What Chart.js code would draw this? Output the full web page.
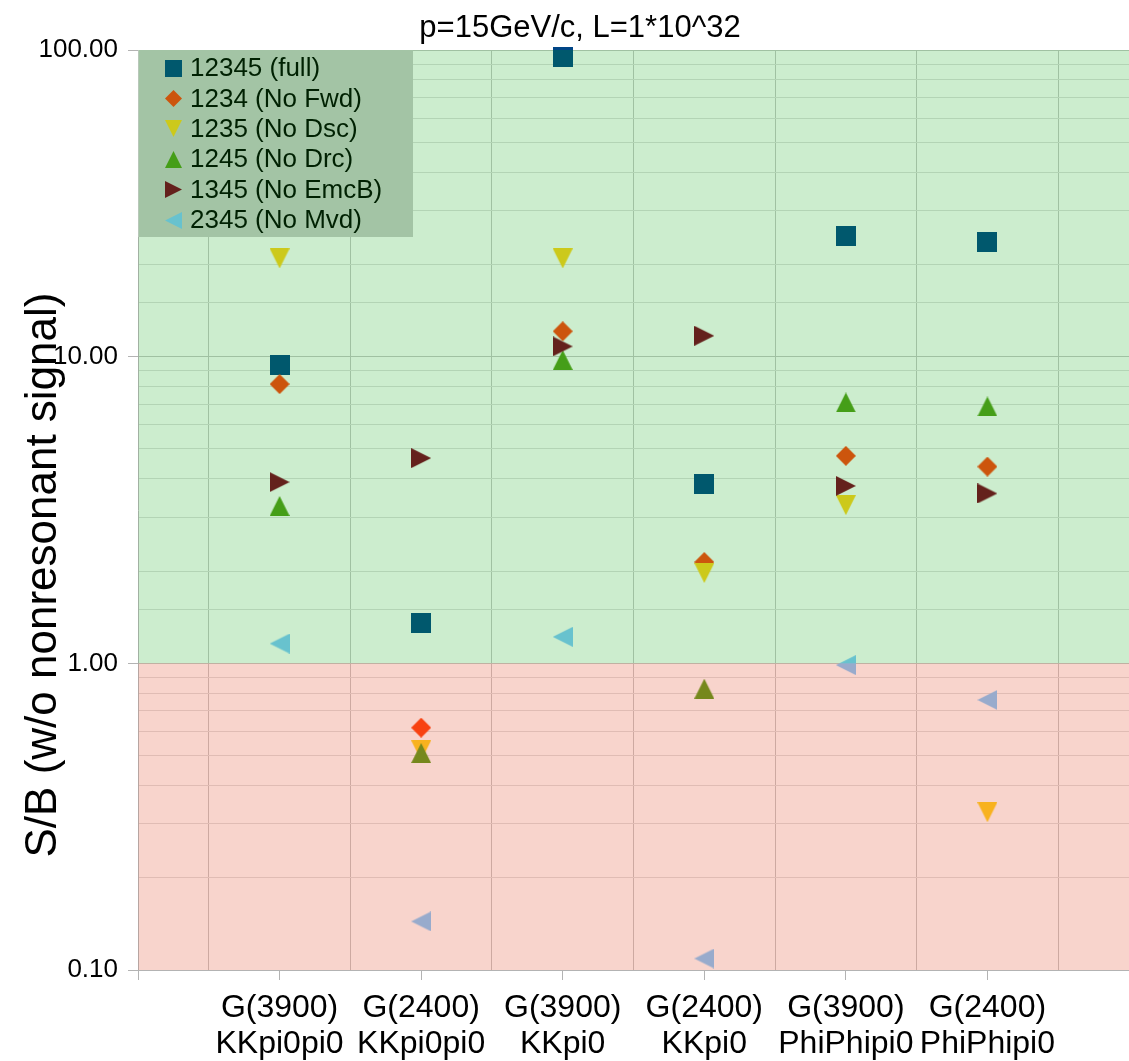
<!DOCTYPE html>
<html>
<head>
<meta charset="utf-8">
<title>S/B per channel</title>
<script src="https://cdn.jsdelivr.net/npm/chart.js@4/dist/chart.umd.min.js"></script>
<style>
  html, body { margin: 0; padding: 0; background: #fff; overflow: hidden; }
  #wrap { width: 1140px; height: 1061px; }
</style>
</head>
<body>
<div id="wrap"><canvas id="sbChart" width="1140" height="1061"></canvas></div>
<script>
// Channels on the x axis (positions 1..6)
const channels = [
    ['G(3900)', 'KKpi0pi0'],
    ['G(2400)', 'KKpi0pi0'],
    ['G(3900)', 'KKpi0'],
    ['G(2400)', 'KKpi0'],
    ['G(3900)', 'PhiPhipi0'],
    ['G(2400)', 'PhiPhipi0']
];

// Detector configurations
const seriesNames = ['12345 (full)', '1234 (No Fwd)', '1235 (No Dsc)', '1245 (No Drc)', '1345 (No EmcB)', '2345 (No Mvd)'];

// S/B values
const sbFull   = [9.4, 1.35, 95, 3.84, 24.7, 23.7];
const sbNoFwd  = [8.14, 0.617, 12.1, 2.14, 4.75, 4.38];
const sbNoDsc  = [20.9, 0.52, 20.9, 1.97, 3.28, 0.327];
const sbNoDrc  = [3.26, 0.51, 9.75, 0.827, 7.09, 6.88];
const sbNoEmcB = [3.9, 4.67, 10.8, 11.7, 3.79, 3.58];
const sbNoMvd  = [1.16, 0.144, 1.22, 0.109, 0.987, 0.76];

const seriesValues = [sbFull, sbNoFwd, sbNoDsc, sbNoDrc, sbNoEmcB, sbNoMvd];
const seriesColors = ['#004586', '#ff420e', '#ffd320', '#579d1c', '#7e0021', '#83caff'];
const seriesShapes = ['square', 'diamond', 'down', 'up', 'right', 'left'];

const FONT = '"Liberation Sans", Arial, sans-serif';
Chart.defaults.font.family = FONT;
Chart.defaults.color = '#000';

// Marker images (shapes like the office chart symbols)
function makeMarker(shape, color, size) {
    const c = document.createElement('canvas');
    c.width = size;
    c.height = size;
    const g = c.getContext('2d');
    const s = size;
    g.fillStyle = color;
    g.beginPath();
    switch (shape) {
        case 'square': g.rect(0, 0, s, s); break;
        case 'diamond': g.moveTo(s / 2, 0); g.lineTo(s, s / 2); g.lineTo(s / 2, s); g.lineTo(0, s / 2); break;
        case 'down': g.moveTo(0, 0); g.lineTo(s, 0); g.lineTo(s / 2, s); break;
        case 'up': g.moveTo(s / 2, 0); g.lineTo(s, s); g.lineTo(0, s); break;
        case 'right': g.moveTo(0, 0); g.lineTo(s, s / 2); g.lineTo(0, s); break;
        case 'left': g.moveTo(s, 0); g.lineTo(0, s / 2); g.lineTo(s, s); break;
    }
    g.closePath();
    g.fill();
    return c;
}

const markers = seriesShapes.map((sh, i) => makeMarker(sh, seriesColors[i], 20));
const legendMarkers = seriesShapes.map((sh, i) => makeMarker(sh, seriesColors[i], 17));

function isDecade(v) {
    const l = Math.log10(v);
    return Math.abs(l - Math.round(l)) < 1e-6;
}

// Legend drawn inside the plot, before the coloured bands
const legendBox = {
    id: 'legendBox',
    afterDatasetsDraw(chart) {
        const { ctx, chartArea } = chart;
        const x0 = chartArea.left;
        const y0 = chartArea.top;
        ctx.save();
        ctx.fillStyle = '#cccccc';
        ctx.fillRect(x0, y0, 275, 187);
        ctx.font = '26px ' + FONT;
        ctx.fillStyle = '#000';
        ctx.textBaseline = 'middle';
        ctx.textAlign = 'left';
        chart.data.datasets.forEach((ds, i) => {
            const cy = y0 + 18 + i * 30.4;
            const m = legendMarkers[i];
            ctx.drawImage(m, Math.round(x0 + 35 - m.width / 2), Math.round(cy - m.height / 2));
            ctx.fillText(ds.label, x0 + 52, cy + 1);
        });
        ctx.restore();
    }
};

// Green (S/B > 1) and red (S/B < 1) translucent bands over everything
const bands = {
    id: 'bands',
    afterDraw(chart) {
        const { ctx, chartArea, scales } = chart;
        const y = scales.y;
        const yTop = y.getPixelForValue(100);
        const yOne = y.getPixelForValue(1);
        const yBot = y.getPixelForValue(0.1);
        const left = chartArea.left + 0.5;
        const w = chartArea.right - left;
        ctx.save();
        ctx.fillStyle = 'rgba(0,163,10,0.2)';
        ctx.fillRect(left, yTop, w, yOne - yTop);
        ctx.fillStyle = 'rgba(224,65,29,0.226)';
        ctx.fillRect(left, yOne, w, yBot - yOne);

        // chart title
        ctx.fillStyle = '#000';
        ctx.font = '31px ' + FONT;
        ctx.textAlign = 'center';
        ctx.textBaseline = 'alphabetic';
        ctx.fillText('p=15GeV/c, L=1*10^32', 580, 37);

        // y axis title
        ctx.translate(44, 575);
        ctx.rotate(-Math.PI / 2);
        ctx.font = '44px ' + FONT;
        ctx.textBaseline = 'middle';
        ctx.fillText('S/B (w/o nonresonant signal)', 0, 0);
        ctx.restore();
    }
};

const ctx = document.getElementById('sbChart').getContext('2d');

const sbChart = new Chart(ctx, {
    type: 'scatter',
    data: {
        datasets: seriesNames.map((name, i) => ({
            label: name,
            data: seriesValues[i].map((v, k) => ({ x: k + 1, y: v })),
            pointStyle: markers[i],
            pointRadius: 10,
            pointHoverRadius: 10,
            order: seriesNames.length - i,
            clip: false
        }))
    },
    options: {
        responsive: false,
        animation: false,
        layout: { padding: { top: 50, right: 8, left: 0, bottom: 0 } },
        plugins: {
            legend: { display: false },
            title: { display: false },
            tooltip: { enabled: false }
        },
        scales: {
            x: {
                type: 'linear',
                min: 0,
                max: 7,
                afterFit(scale) { scale.height = 91; },
                border: { color: '#b3b3b3' },
                grid: {
                    color: c => (c.tick && !Number.isInteger(c.tick.value)) ? '#c8c8c8' : 'rgba(0,0,0,0)',
                    tickColor: c => (c.tick && Number.isInteger(c.tick.value)) ? '#b3b3b3' : 'rgba(0,0,0,0)',
                    tickLength: 10
                },
                ticks: {
                    stepSize: 0.5,
                    autoSkip: false,
                    maxRotation: 0,
                    padding: 10,
                    color: '#000',
                    font: { size: 32, lineHeight: 1.13 },
                    callback: v => (Number.isInteger(v) && channels[v - 1]) ? channels[v - 1] : ''
                }
            },
            y: {
                type: 'logarithmic',
                min: 0.1,
                max: 100,
                afterFit(scale) { scale.width = 138; },
                border: { color: '#b3b3b3' },
                grid: {
                    color: c => (c.tick && isDecade(c.tick.value)) ? '#c8c8c8' : '#e0e0e0',
                    tickColor: c => (c.tick && isDecade(c.tick.value)) ? '#b3b3b3' : 'rgba(0,0,0,0)',
                    tickLength: 10
                },
                ticks: {
                    autoSkip: false,
                    padding: 10,
                    color: '#000',
                    font: { size: 26 },
                    callback: v => isDecade(v) ? Number(v).toFixed(2) : ''
                }
            }
        }
    },
    plugins: [legendBox, bands]
});
</script>
</body>
</html>
